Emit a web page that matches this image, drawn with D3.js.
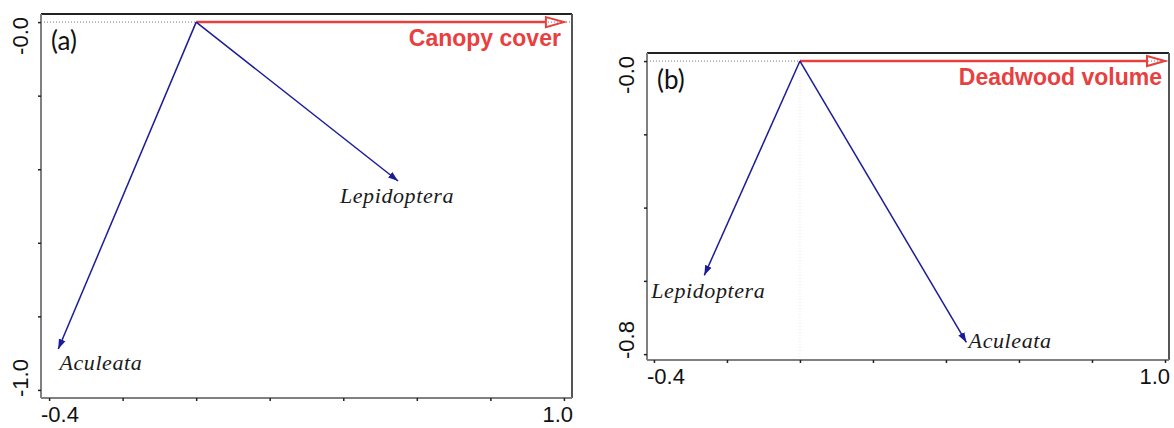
<!DOCTYPE html>
<html>
<head>
<meta charset="utf-8">
<script src="https://cdn.jsdelivr.net/npm/d3@7"></script>
<style>
  body { margin: 0; background: #fff; }
  svg { display: block; }
</style>
</head>
<body>
<svg id="chart" width="1174" height="428"></svg>
<script>
/* biplot panels, values */

const xTicks = [-0.4, -0.2, 0, 0.2, 0.4, 0.6, 0.8, 1.0];
const xTickLabels = ["-0.4", "1.0"];

// panel (a)
const speciesA = ["Aculeata", "Lepidoptera"];
const speciesAX = [-0.375, 0.549];
const speciesAY = [-0.889, -0.432];
const labelAX = [-0.372, 0.546];
const labelAY = [-0.946, -0.492];
const envA = "Canopy cover";
const envAX = 1.0;
const yTicksA = [0, -0.2, -0.4, -0.6, -0.8, -1.0];
const yTickLabelsA = ["-0.0", "-1.0"];

// panel (b)
const speciesB = ["Lepidoptera", "Aculeata"];
const speciesBX = [-0.262, 0.456];
const speciesBY = [-0.585, -0.768];
const labelBX = [-0.251, 0.462];
const labelBY = [-0.648, -0.784];
const envB = "Deadwood volume";
const envBX = 1.0;
const yTicksB = [0, -0.2, -0.4, -0.6, -0.8];
const yTickLabelsB = ["-0.0", "-0.8"];

const red = "#e8403f";
const navy = "#1c1c98";

const svg = d3.select("#chart");

svg.append("defs").append("marker")
    .attr("id", "bluehead")
    .attr("markerUnits", "userSpaceOnUse")
    .attr("viewBox", "0 -4 10 8")
    .attr("refX", 10).attr("refY", 0)
    .attr("markerWidth", 10).attr("markerHeight", 8)
    .attr("orient", "auto")
    .append("path")
    .attr("d", "M0,-3.5L10,0L0,3.5Z")
    .attr("fill", navy);

function drawPanel(cfg) {
  let x = d3.scaleLinear().domain(cfg.xDomain).range([cfg.left, cfg.right]);
  let y = d3.scaleLinear().domain(cfg.yDomain).range([cfg.top, cfg.bottom]);
  let g = svg.append("g");

  // zero lines
  g.append("line")
      .attr("x1", cfg.left).attr("x2", cfg.right)
      .attr("y1", y(0)).attr("y2", y(0))
      .attr("stroke", "#777").attr("stroke-width", 1)
      .attr("stroke-dasharray", "1,2");
  if (cfg.vline) {
    g.append("line")
        .attr("x1", x(0)).attr("x2", x(0))
        .attr("y1", cfg.top).attr("y2", cfg.bottom)
        .attr("stroke", "#e4e4e4").attr("stroke-width", 1)
        .attr("stroke-dasharray", "1,2");
  }

  // box top & right
  g.append("line")
      .attr("x1", cfg.left).attr("x2", cfg.right)
      .attr("y1", cfg.top).attr("y2", cfg.top)
      .attr("stroke", "#222").attr("stroke-width", 2);
  g.append("line")
      .attr("x1", cfg.right).attr("x2", cfg.right)
      .attr("y1", cfg.top).attr("y2", cfg.bottom)
      .attr("stroke", "#555").attr("stroke-width", 2);

  // axes
  let xAxis = d3.axisBottom(x).tickValues(xTicks).tickSize(3).tickSizeOuter(0).tickFormat("");
  let gx = g.append("g").attr("transform", `translate(0,${cfg.bottom})`).call(xAxis);
  gx.select(".domain").attr("d", `M${cfg.left},0H${cfg.right}`);
  let yAxis = d3.axisLeft(y).tickValues(cfg.yTicks).tickSize(3).tickSizeOuter(0).tickFormat("");
  let gy = g.append("g").attr("transform", `translate(${cfg.left},0)`).call(yAxis);
  gy.select(".domain").attr("d", `M0,${cfg.top}V${cfg.bottom}`);
  [gx, gy].forEach(a => {
    a.select(".domain").attr("stroke", "#808080").attr("stroke-width", 2);
    a.selectAll(".tick line").attr("stroke", "#222").attr("stroke-width", 1.5);
  });

  // tick labels, pulled in to the box edges
  g.append("text")
      .attr("x", cfg.left).attr("y", cfg.bottom + 24)
      .attr("text-anchor", "start")
      .attr("font-family", "Liberation Sans, Arial, sans-serif")
      .attr("font-size", 22).attr("fill", "#111")
      .text(xTickLabels[0]);
  g.append("text")
      .attr("x", cfg.right + 1).attr("y", cfg.bottom + 24)
      .attr("text-anchor", "end")
      .attr("font-family", "Liberation Sans, Arial, sans-serif")
      .attr("font-size", 22).attr("fill", "#111")
      .text(xTickLabels[1]);
  g.append("text")
      .attr("transform", `translate(${cfg.left - 13},${cfg.top + 3}) rotate(-90)`)
      .attr("text-anchor", "end")
      .attr("font-family", "Liberation Sans, Arial, sans-serif")
      .attr("font-size", 22).attr("fill", "#111")
      .text(cfg.yTickLabels[0]);
  g.append("text")
      .attr("transform", `translate(${cfg.left - 13},${cfg.bottom - 1}) rotate(-90)`)
      .attr("text-anchor", "start")
      .attr("font-family", "Liberation Sans, Arial, sans-serif")
      .attr("font-size", 22).attr("fill", "#111")
      .text(cfg.yTickLabels[1]);

  // panel letter
  g.append("text")
      .attr("x", cfg.left + 10).attr("y", cfg.top + 36)
      .attr("font-family", "Lato, sans-serif")
      .attr("font-size", 26).attr("fill", "#111")
      .text(cfg.letter);

  // environmental arrow (open head)
  let tipX = x(cfg.envX), y0 = y(0);
  g.append("line")
      .attr("x1", x(0)).attr("x2", tipX - 18)
      .attr("y1", y0).attr("y2", y0)
      .attr("stroke", red).attr("stroke-width", 2.5);
  g.append("path")
      .attr("d", `M${tipX - 18},${y0 - 5}L${tipX},${y0}L${tipX - 18},${y0 + 5}Z`)
      .attr("fill", "none").attr("stroke", red).attr("stroke-width", 2);
  g.append("text")
      .attr("x", tipX - 3).attr("y", y0 + 24)
      .attr("text-anchor", "end")
      .attr("font-family", "Liberation Sans, Arial, sans-serif")
      .attr("font-weight", "bold")
      .attr("font-size", 23).attr("fill", red)
      .text(cfg.env);

  // species arrows
  g.selectAll(".sp")
      .data(cfg.species)
      .enter()
      .append("line")
      .attr("class", "sp")
      .attr("x1", x(0)).attr("y1", y(0))
      .attr("x2", (d, i) => x(cfg.spX[i]))
      .attr("y2", (d, i) => y(cfg.spY[i]))
      .attr("stroke", navy).attr("stroke-width", 1.5)
      .attr("marker-end", "url(#bluehead)");

  g.selectAll(".splabel")
      .data(cfg.species)
      .enter()
      .append("text")
      .attr("class", "splabel")
      .attr("x", (d, i) => x(cfg.lbX[i]))
      .attr("y", (d, i) => y(cfg.lbY[i]))
      .attr("text-anchor", (d, i) => cfg.anchors[i])
      .attr("font-family", "Liberation Serif, Times New Roman, serif")
      .attr("font-style", "italic")
      .attr("font-size", 22).attr("letter-spacing", 0.6).attr("fill", "#1a1a1a")
      .text(d => d);
}

drawPanel({
  left: 41, right: 572, top: 14, bottom: 398,
  xDomain: [-0.422, 1.022], yDomain: [0.022, -1.022],
  yTicks: yTicksA, yTickLabels: yTickLabelsA,
  letter: "(a)", env: envA, envX: envAX,
  species: speciesA, spX: speciesAX, spY: speciesAY,
  lbX: labelAX, lbY: labelAY, anchors: ["start", "middle"],
  vline: false
});

drawPanel({
  left: 647, right: 1169, top: 53, bottom: 360,
  xDomain: [-0.419, 1.011], yDomain: [0.022, -0.816],
  yTicks: yTicksB, yTickLabels: yTickLabelsB,
  letter: "(b)", env: envB, envX: envBX,
  species: speciesB, spX: speciesBX, spY: speciesBY,
  lbX: labelBX, lbY: labelBY, anchors: ["middle", "start"],
  vline: true
});
</script>
</body>
</html>
